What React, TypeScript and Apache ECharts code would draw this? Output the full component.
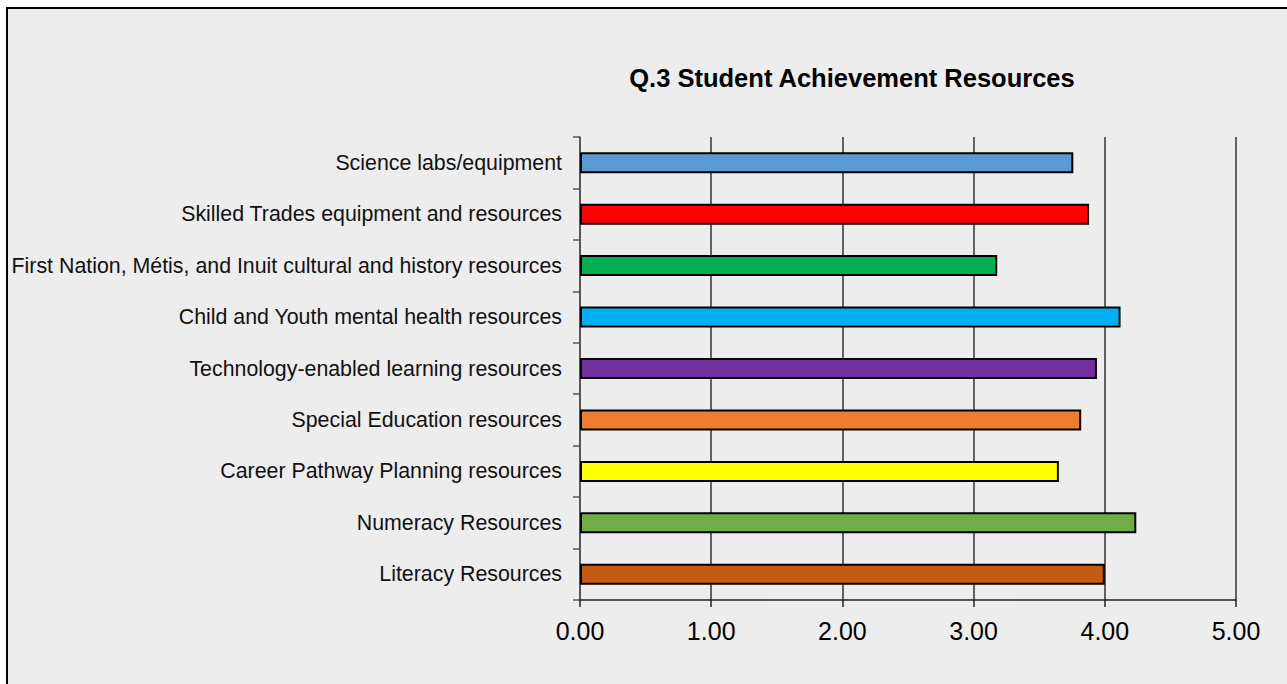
import React, { useEffect, useRef } from "react";
import * as echarts from "echarts";

const categories = [
  "Science labs/equipment",
  "Skilled Trades equipment and resources",
  "First Nation, Métis, and Inuit cultural and history resources",
  "Child and Youth mental health resources",
  "Technology-enabled learning resources",
  "Special Education resources",
  "Career Pathway Planning resources",
  "Numeracy Resources",
  "Literacy Resources",
];
const values = [3.76, 3.88, 3.18, 4.12, 3.94, 3.82, 3.65, 4.24, 4.0];
const colors = [
  "#5b9bd5",
  "#ff0000",
  "#00b050",
  "#00b0f0",
  "#7030a0",
  "#ed7d31",
  "#ffff00",
  "#70ad47",
  "#c55a11",
];
const title = "Q.3 Student Achievement Resources";

export default function App() {
  const ref = useRef<HTMLDivElement>(null);
  useEffect(() => {
    if (!ref.current) return;
    const chart = echarts.init(ref.current, undefined, { renderer: "svg" });
    chart.setOption({
      animation: false,
      title: {
        text: title,
        left: 847,
        top: 60,
        textAlign: "center",
        textStyle: {
          fontFamily: "Liberation Sans, Arial, sans-serif",
          fontSize: 25.5,
          fontWeight: "bold",
          color: "#000",
        },
      },
      grid: { left: 580, right: 51, top: 137, bottom: 84, containLabel: false },
      xAxis: {
        type: "value",
        min: 0,
        max: 5,
        interval: 1,
        axisLine: { show: true, lineStyle: { color: "#222", width: 1.5 } },
        axisTick: { show: true, length: 7, lineStyle: { color: "#222", width: 1.5 } },
        splitLine: { show: true, lineStyle: { color: "#333", width: 1.5 } },
        axisLabel: {
          margin: 18,
          formatter: (v: number) => v.toFixed(2),
          fontFamily: "Liberation Sans, Arial, sans-serif",
          fontSize: 25,
          color: "#000",
        },
      },
      yAxis: {
        type: "category",
        data: categories,
        inverse: true,
        axisLine: { show: true, lineStyle: { color: "#555", width: 1.5 } },
        axisTick: { show: true, length: 7, lineStyle: { color: "#555", width: 1.5 } },
        axisLabel: {
          margin: 18,
          fontFamily: "Liberation Sans, Arial, sans-serif",
          fontSize: 21.35,
          color: "#111",
        },
      },
      series: [
        {
          type: "bar",
          barWidth: 21,
          data: values.map((v, i) => ({
            value: v,
            itemStyle: { color: colors[i], borderColor: "#000", borderWidth: 2 },
          })),
        },
      ],
    });
    return () => chart.dispose();
  }, []);
  return (
    <div
      style={{
        position: "fixed",
        left: 0,
        top: 0,
        width: 1287,
        height: 684,
        overflow: "hidden",
        background: "#fff",
      }}
    >
      <div
        style={{
          position: "absolute",
          left: 6,
          top: 7,
          width: 1400,
          height: 800,
          border: "2px solid #000",
          background: "#ededed",
        }}
      />
      <div
        ref={ref}
        style={{ position: "absolute", left: 0, top: 0, width: 1287, height: 684 }}
      />
    </div>
  );
}
